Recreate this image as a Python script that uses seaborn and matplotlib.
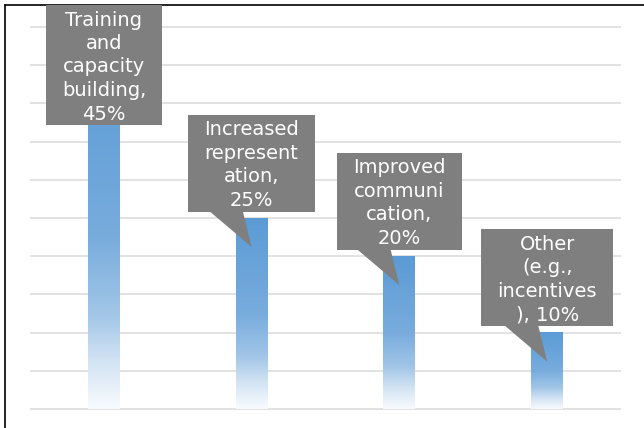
import numpy as np
import pandas as pd
import matplotlib
matplotlib.use("Agg")
import matplotlib.pyplot as plt
import seaborn as sns
from matplotlib.patches import Polygon, Rectangle
from matplotlib.lines import Line2D

# Survey shares per suggested improvement (percent)
categories = [
    "Training and capacity building",
    "Increased representation",
    "Improved communication",
    "Other (e.g., incentives)",
]
shares = [45, 25, 20, 10]
# Wrapped callout text; the value is filled in from `shares`
label_templates = [
    "Training\nand\ncapacity\nbuilding,\n{}%",
    "Increased\nrepresent\nation,\n{}%",
    "Improved\ncommuni\ncation,\n{}%",
    "Other\n(e.g.,\nincentives\n), {}%",
]
y_ticks = list(range(0, 55, 5))

W, H, DPI = 644, 428, 100
BLUE = "#5b9bd5"
CALLOUT = "#7f7f7f"
GRID = "#dadada"

sns.set_theme(style="white")
plt.rcParams["font.family"] = ["DejaVu Sans"]

fig = plt.figure(figsize=(W / DPI, H / DPI), dpi=DPI)
fig.patch.set_facecolor("white")
ax = fig.add_axes([30 / W, 17.5 / H, 591 / W, 385 / H])
ax.set_facecolor("white")

df = pd.DataFrame({"category": categories, "share": shares})
sns.barplot(data=df, x="category", y="share", color=BLUE, width=0.216,
            ax=ax, zorder=2, saturation=1)

# vertical blue-to-white gradient inside each bar
stops_t = [0.0, 0.5, 0.72, 0.86, 1.0]
stops_c = np.array([
    [91, 155, 213],
    [120, 172, 221],
    [160, 197, 231],
    [210, 227, 243],
    [248, 251, 254],
]) / 255.0
t = np.linspace(0, 1, 256)
grad = np.stack([np.interp(t, stops_t, stops_c[:, k]) for k in range(3)], axis=1)
grad = grad[:, None, :]
for patch in list(ax.patches):
    bb = patch.get_bbox()
    ax.imshow(grad, extent=[bb.x0, bb.x1, bb.y0, bb.y1], origin="upper",
              aspect="auto", zorder=2, interpolation="bilinear")
    patch.set_facecolor("none")
    patch.set_edgecolor("none")

ax.set_xlim(-0.5, 3.5)
ax.set_ylim(-0.2, 50.2)
ax.set_yticks(y_ticks)
ax.yaxis.grid(True, color=GRID, linewidth=1.1)
ax.xaxis.grid(False)
ax.set_axisbelow(True)
ax.tick_params(left=False, bottom=False, labelleft=False, labelbottom=False)
ax.set_xlabel("")
ax.set_ylabel("")
for s in ax.spines.values():
    s.set_visible(False)

# frame edges along the left and top
fig.add_artist(Line2D([5 / W, 5 / W], [0, (H - 5) / H], color="black",
                      lw=1.2, transform=fig.transFigure))
fig.add_artist(Line2D([5 / W, 1], [(H - 5) / H, (H - 5) / H], color="black",
                      lw=1.2, transform=fig.transFigure))

# callout boxes above each bar
renderer = fig.canvas.get_renderer()
for i, (v, tmpl) in enumerate(zip(shares, label_templates)):
    cx, top = ax.transData.transform((i, v))
    txt = fig.text(0, 0, tmpl.format(v), color="white", fontsize=14,
                   ha="center", va="center", multialignment="center",
                   linespacing=1.3, zorder=6)
    tb = txt.get_window_extent(renderer=renderer)
    nlines = tmpl.count("\n") + 1
    bw = tb.width + 32
    bh = nlines * 23 + 5
    cy = min(top + 55, H - 5 - bh / 2)
    txt.set_position((cx / W, (cy - 2) / H))
    x0, y0 = cx - bw / 2, cy - bh / 2
    fig.add_artist(Rectangle((x0 / W, y0 / H), bw / W, bh / H,
                             facecolor=CALLOUT, edgecolor="none",
                             transform=fig.transFigure, zorder=5))
    tip_y = top - 29
    if tip_y < y0:
        pts = [(cx - 43, y0 + 1), (cx - 9, y0 + 1), (cx, tip_y)]
        fig.add_artist(Polygon([(px / W, py / H) for px, py in pts],
                               closed=True, facecolor=CALLOUT,
                               edgecolor="none", transform=fig.transFigure,
                               zorder=5))

fig.savefig("out.png", dpi=DPI)
